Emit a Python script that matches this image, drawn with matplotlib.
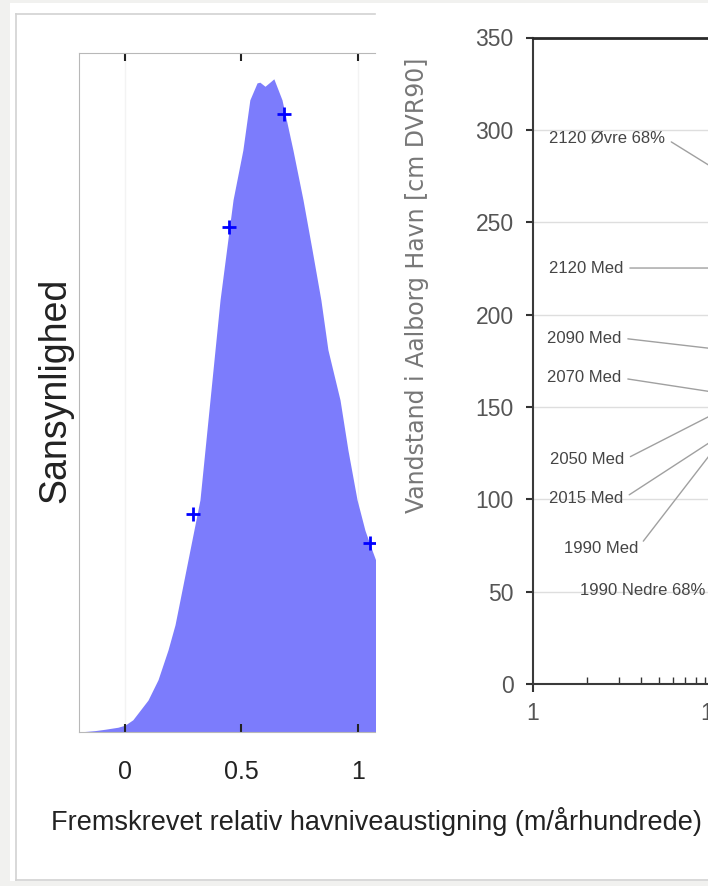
import matplotlib
matplotlib.use("Agg")
import matplotlib.pyplot as plt
from matplotlib import font_manager
from matplotlib.ticker import FixedLocator, NullFormatter
from matplotlib.patches import Rectangle
from matplotlib.lines import Line2D

W, H = 708, 886

# left panel: density of projected relative sea level rise (relative height)
dens_x = [-0.197, -0.129, -0.086, -0.030, 0.000, 0.034, 0.099, 0.142, 0.185, 0.215,
          0.236, 0.279, 0.322, 0.365, 0.408, 0.464, 0.506, 0.536, 0.567, 0.579,
          0.601, 0.622, 0.639, 0.674, 0.721, 0.764, 0.803, 0.841, 0.871, 0.923,
          0.957, 0.996, 1.030, 1.060, 1.090]
dens_y = [0.000, 0.002, 0.004, 0.007, 0.010, 0.018, 0.047, 0.077, 0.121, 0.158,
          0.194, 0.268, 0.342, 0.489, 0.636, 0.784, 0.857, 0.931, 0.956, 0.957,
          0.951, 0.957, 0.962, 0.931, 0.857, 0.784, 0.710, 0.636, 0.563, 0.489,
          0.415, 0.342, 0.297, 0.268, 0.240]
quant_x = [0.292, 0.446, 0.682, 1.052]
quant_y = [0.321, 0.744, 0.910, 0.278]
left_ticks = [0, 0.5, 1]
left_ticklabels = ["0", "0.5", "1"]

# right panel: water level in Aalborg harbour
level_ticks = [0, 50, 100, 150, 200, 250, 300, 350]
log_ticks = [1, 10]
log_ticklabels = ["1", "10"]
ann_names = ["2120 Øvre 68%", "2120 Med", "2090 Med", "2070 Med",
             "2050 Med", "2015 Med", "1990 Med", "1990 Nedre 68%"]
ann_tip_x = [10.9, 10.9, 10.9, 10.9, 10.9, 10.9, 10.9, 10.9]
ann_tip_y = [277.2, 225.2, 181.1, 157.5, 147.8, 134.3, 131.0, 50.4]
ann_text_x = [5.41, 3.16, 3.08, 3.08, 3.20, 3.16, 3.83, 9.03]
ann_text_y = [295.6, 225.2, 187.3, 165.7, 121.3, 100.2, 73.6, 50.4]

names = {f.name for f in font_manager.fontManager.ttflist}
has_narrow = "Liberation Sans Narrow" in names
narrow = "Liberation Sans Narrow" if has_narrow else "Liberation Sans"


def box(x0, y0, x1, y1):
    return [x0 / W, 1 - y1 / H, (x1 - x0) / W, (y1 - y0) / H]


fig = plt.figure(figsize=(W / 100, H / 100), dpi=100, facecolor="#f1f1ef")

# page frame
fig.add_artist(Rectangle((10 / W, 1 - 881 / H), (W - 10) / W, (881 - 3) / H,
                         transform=fig.transFigure, facecolor="white",
                         edgecolor="none", zorder=0))
frame = dict(transform=fig.transFigure, color="#d2d2d2", lw=1.2, zorder=1)
fig.add_artist(Line2D([16 / W, 16 / W], [1 - 14 / H, 1 - 880 / H], **frame))
fig.add_artist(Line2D([16 / W, 375 / W], [1 - 14 / H, 1 - 14 / H], **frame))
fig.add_artist(Line2D([16 / W, 1], [1 - 880 / H, 1 - 880 / H], **frame))

# left panel
ax1 = fig.add_axes(box(79, 53, 375, 732))
ax1.fill_between(dens_x, dens_y, color="#7c7cfc", lw=0)
ax1.plot(quant_x, quant_y, "+", color="#0000ff", ms=10, mew=2)
for t in [0, 1]:
    ax1.axvline(t, color="#f3f3f3", lw=1, zorder=0)
ax1.set_xlim(-0.197, 1.073)
ax1.set_ylim(0, 1)
ax1.set_yticks([])
ax1.set_xticks(left_ticks)
ax1.set_xticklabels(left_ticklabels, family=narrow)
ax1.tick_params(axis="x", direction="in", top=True, length=6, width=1.5,
                color="#222222", labelsize=21 if has_narrow else 18, pad=20,
                labelcolor="#222222")
for s in ["left", "bottom", "top"]:
    ax1.spines[s].set_color("#b8b8b8")
ax1.spines["right"].set_visible(False)

# right panel
ax2 = fig.add_axes(box(533, 37.5, 533 + 540, 684))
ax2.set_facecolor("none")
ax2.set_xscale("log")
ax2.set_xlim(1, 1000)
ax2.set_ylim(0, 350)
ax2.set_yticks(level_ticks)
ax2.set_xticks(log_ticks)
ax2.set_xticklabels(log_ticklabels)
ax2.xaxis.set_minor_locator(FixedLocator([2, 3, 4, 5, 6, 7, 8, 9]))
ax2.xaxis.set_minor_formatter(NullFormatter())
ax2.yaxis.grid(True, color="#dedede", lw=1)
ax2.set_axisbelow(True)
for s in ["left", "bottom"]:
    ax2.spines[s].set_color("#3a3a3a")
    ax2.spines[s].set_linewidth(1.5)
ax2.spines["top"].set_color("#2a2a2a")
ax2.spines["top"].set_linewidth(2)
ax2.spines["right"].set_visible(False)
ax2.tick_params(axis="y", direction="out", length=5, width=1.5, color="#333333",
                labelsize=19 if has_narrow else 16.5, labelcolor="#555555", pad=9)
ax2.tick_params(axis="x", which="major", direction="out", length=6, width=1.5,
                color="#333333", labelsize=19 if has_narrow else 16.5,
                labelcolor="#555555", pad=7)
ax2.tick_params(axis="x", which="minor", direction="in", length=5, width=1,
                color="#333333")
for lab in ax2.get_xticklabels() + ax2.get_yticklabels():
    lab.set_family(narrow)

for name, tx, ty, px, py in zip(ann_names, ann_text_x, ann_text_y, ann_tip_x, ann_tip_y):
    ax2.annotate(name, xy=(px, py), xytext=(tx, ty), ha="right", va="center",
                 fontsize=14 if has_narrow else 12, color="#454545", family=narrow,
                 annotation_clip=False,
                 arrowprops=dict(arrowstyle="-", color="#a0a0a0", lw=1,
                                 shrinkA=3, shrinkB=0, relpos=(1, 0.5)))

fig.text(417 / W, 1 - 285 / H, "Vandstand i Aalborg Havn [cm DVR90]", rotation=90,
         ha="center", va="center", fontsize=17, color="#777777", family="DejaVu Sans")
fig.text(55 / W, 1 - 390 / H, "Sansynlighed", rotation=90, ha="center", va="center",
         fontsize=27, color="#222222", family="Liberation Sans")
fig.text(376 / W, 1 - 822 / H, "Fremskrevet relativ havniveaustigning (m/århundrede)",
         ha="center", va="center", fontsize=23 if has_narrow else 19.5,
         color="#222222", family=narrow)

fig.savefig("out.png", dpi=100, facecolor=fig.get_facecolor())
